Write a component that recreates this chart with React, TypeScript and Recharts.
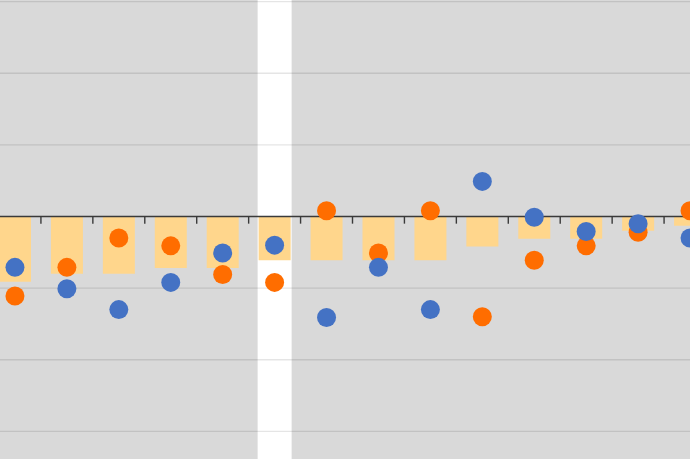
import { ComposedChart, Bar, Scatter, XAxis, YAxis, ReferenceLine } from "recharts";

const categories = ["1", "2", "3", "4", "5", "6", "7", "8", "9", "10", "11", "12", "13", "14"];
const barValues = [-0.91, -0.8, -0.8, -0.72, -0.72, -0.61, -0.61, -0.61, -0.61, -0.42, -0.31, -0.31, -0.2, -0.13];
const blueValues = [-0.71, -1.01, -1.3, -0.92, -0.51, -0.4, -1.41, -0.71, -1.3, 0.49, -0.01, -0.21, -0.1, -0.3];
const orangeValues = [-1.11, -0.71, -0.3, -0.41, -0.81, -0.92, 0.08, -0.51, 0.08, -1.4, -0.61, -0.41, -0.22, 0.08];
const highlighted = ["6"];
const gridTicks = [-3, -2, -1, 1, 2, 3];
const yDomain: [number, number] = [-4, 4];

const data = categories.map((cat, i) => ({
  cat,
  bar: barValues[i],
  blue: blueValues[i],
  orange: orangeValues[i],
  band: highlighted.includes(cat) ? yDomain : null,
}));

const dot = (color: string) => (props: any) =>
  <circle cx={props.cx} cy={props.cy} r={9.5} fill={color} />;

export default function App() {
  return (
    <div
      style={{
        position: "fixed",
        left: 0,
        top: 0,
        width: 690,
        height: 459,
        overflow: "hidden",
        background: "#d9d9d9",
      }}
    >
      <div style={{ position: "absolute", left: -11.3, top: -70.2 }}>
        <ComposedChart width={727} height={573} data={data} margin={{ top: 0, right: 0, bottom: 0, left: 0 }}>
          <XAxis xAxisId="hl" dataKey="cat" hide />
          <XAxis xAxisId="main" dataKey="cat" hide />
          <YAxis type="number" domain={yDomain} hide />

          <Bar xAxisId="hl" dataKey="band" barSize={34} fill="#ffffff" isAnimationActive={false} />

          {/* gridlines sit over the white highlight band */}
          {gridTicks.map((t) => (
            <ReferenceLine
              key={"g" + t}
              xAxisId="main"
              y={t}
              stroke="#000"
              strokeOpacity={0.1}
              strokeWidth={1.3}
              zIndex={350}
            />
          ))}

          <Bar xAxisId="main" dataKey="bar" barSize={32} fill="#ffd68c" isAnimationActive={false} />

          <ReferenceLine xAxisId="main" y={0} stroke="#3a3a3a" strokeWidth={1.4} zIndex={450} />
          {categories.slice(0, -1).map((c) => (
            <ReferenceLine
              key={"t" + c}
              xAxisId="main"
              position="end"
              segment={[{ x: c, y: 0 }, { x: c, y: -0.1 }]}
              stroke="#3a3a3a"
              strokeWidth={1.4}
              zIndex={450}
            />
          ))}

          <Scatter xAxisId="main" dataKey="orange" fill="#ff6d00" shape={dot("#ff6d00")} isAnimationActive={false} />
          <Scatter xAxisId="main" dataKey="blue" fill="#4472c4" shape={dot("#4472c4")} isAnimationActive={false} />
        </ComposedChart>
      </div>
    </div>
  );
}
